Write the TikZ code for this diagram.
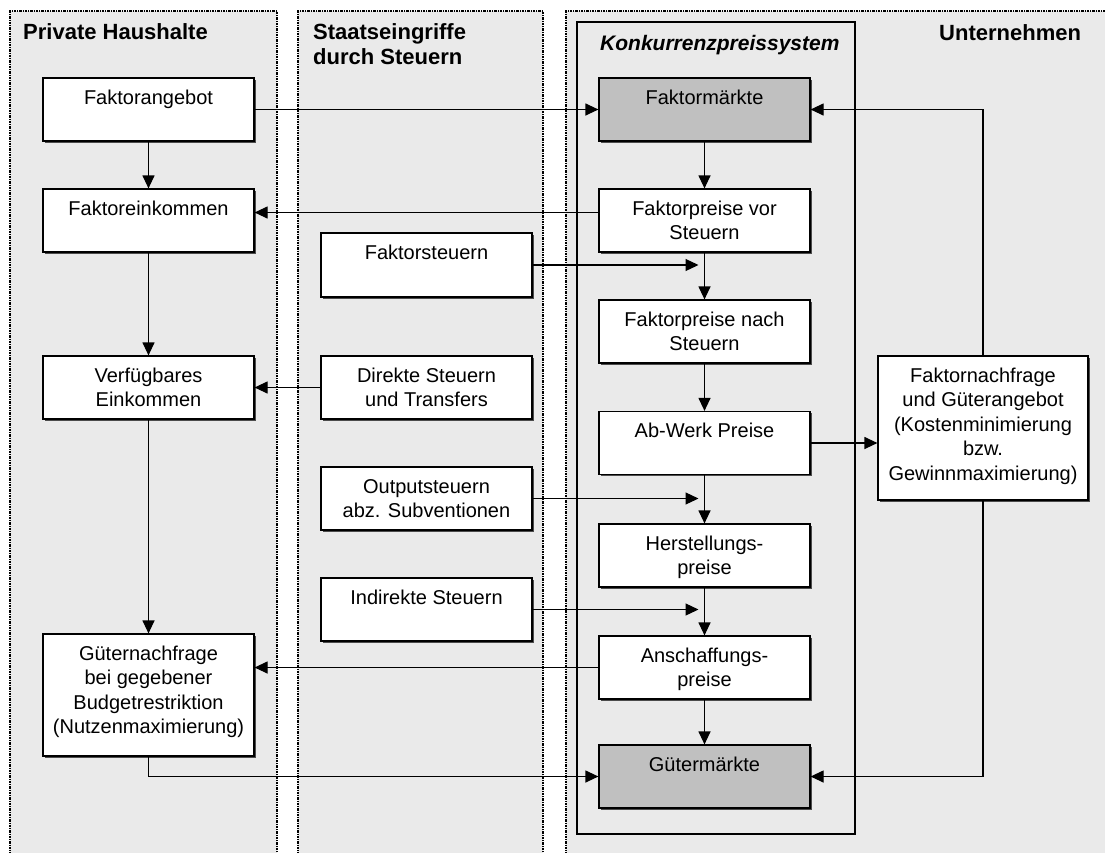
\documentclass[tikz,border=0pt]{standalone}
\usepackage{fontspec}
\setmainfont{Liberation Sans}
\usetikzlibrary{arrows.meta,shadows}
\definecolor{panel}{HTML}{EAEAEA}
\definecolor{markt}{HTML}{C0C0C0}
\newcommand{\boxtext}[3]{\parbox[c][#2pt][t]{#1pt}{\centering\rule{0pt}{26pt}#3}}
\tikzset{
  sector/.style={line width=1.3pt, dash pattern=on 2.5pt off 1pt on 1pt off 1pt},
  blk/.style={draw, fill=white, line width=1.2pt, inner sep=0pt,
    font=\fontsize{20}{24.5}\selectfont,
    drop shadow={shadow xshift=1.5pt, shadow yshift=-1.5pt, fill=black!70, opacity=1}},
  mkt/.style={blk, fill=markt},
  head/.style={font=\fontsize{22}{25}\selectfont\bfseries, inner sep=0pt, align=left},
  arr/.style={line width=1.2pt, -{Triangle[length=13pt,width=12pt]}}
}
\begin{document}
\begin{tikzpicture}[x=1pt,y=-1pt]
\clip (0,0) rectangle (1105,852);
\fill[panel] (10,11) rectangle (277,860);
\fill[panel] (298,11) rectangle (543,860);
\fill[panel] (566,11) rectangle (1110,860);
\draw[sector] (10,860) -- (10,11) -- (277,11) -- (277,860);
\draw[sector] (298,860) -- (298,11) -- (543,11) -- (543,860);
\draw[sector] (566,860) -- (566,11) -- (1110,11);
\draw[line width=1.2pt] (577,22) rectangle (855,834);

\node[head, anchor=base west] (haushalte) at (23,39) {Private Haushalte};
\node[head, anchor=north west] (staat) at (313,23) {Staatseingriffe\\durch Steuern};
\node[head, anchor=base west, font=\fontsize{21}{25}\selectfont\bfseries\itshape] (kps) at (600,50) {Konkurrenzpreissystem};
\node[head, anchor=base west] (unternehmen) at (939,40) {Unternehmen};

\node[blk] (fangebot) at (148.5,109.5) {\boxtext{211}{63}{Faktorangebot}};
\node[blk] (feink) at (148.5,220.5) {\boxtext{211}{63}{Faktoreinkommen}};
\node[blk] (verfueg) at (148.5,387.5) {\boxtext{211}{63}{Verfügbares\\Einkommen}};
\node[blk] (gnachf) at (148.5,695) {\boxtext{211}{122}{Güternachfrage\\bei gegebener\\Budgetrestriktion\\(Nutzenmaximierung)}};

\node[blk] (fsteuer) at (426.5,265) {\boxtext{211}{64}{Faktorsteuern}};
\node[blk] (direkt) at (426.5,387.5) {\boxtext{211}{63}{Direkte Steuern\\und Transfers}};
\node[blk] (output) at (426.5,498.5) {\boxtext{211}{63}{Outputsteuern\\abz. Subventionen}};
\node[blk] (indirekt) at (426.5,609.5) {\boxtext{211}{63}{Indirekte Steuern}};

\node[mkt] (fmarkt) at (704.5,109.5) {\boxtext{211}{63}{Faktormärkte}};
\node[blk] (fvor) at (704.5,220.5) {\boxtext{211}{63}{Faktorpreise vor\\Steuern}};
\node[blk] (fnach) at (704.5,331.5) {\boxtext{211}{63}{Faktorpreise nach\\Steuern}};
\node[blk] (abwerk) at (704.5,443) {\boxtext{211}{63}{Ab-Werk Preise}};
\node[blk] (herst) at (704.5,555.5) {\boxtext{211}{63}{Herstellungs-\\preise}};
\node[blk] (ansch) at (704.5,667.5) {\boxtext{211}{63}{Anschaffungs-\\preise}};
\node[mkt] (gmarkt) at (704.5,776.5) {\boxtext{211}{63}{Gütermärkte}};

\node[blk] (fnachfr) at (983,428) {\boxtext{210}{144}{Faktornachfrage\\und Güterangebot\\(Kostenminimierung\\bzw.\\Gewinnmaximierung)}};

\draw[arr] (fangebot.east) -- (fmarkt.west);
\draw[arr] (fangebot) -- (feink);
\draw[arr] (feink) -- (verfueg);
\draw[arr] (verfueg) -- (gnachf);
\draw[arr] ([yshift=8pt]fvor.west) -- ([yshift=8pt]feink.east);
\draw[arr] (direkt) -- (verfueg);
\draw[arr] (ansch.west) -- (ansch.west -| gnachf.east);
\draw[arr] (gnachf.south) |- (gmarkt.west);

\draw[arr] (fmarkt) -- (fvor);
\draw[arr] (fvor) -- (fnach);
\draw[arr] (fnach) -- (abwerk);
\draw[arr] (abwerk) -- (herst);
\draw[arr] (herst) -- (ansch);
\draw[arr] (ansch) -- (gmarkt);
\draw[arr, shorten >=6pt] (fsteuer.east) -- (fsteuer.east -| fvor.south);
\draw[arr, shorten >=6pt] (output.east) -- (output.east -| abwerk.south);
\draw[arr, shorten >=6pt] (indirekt.east) -- (indirekt.east -| herst.south);

\draw[arr] (abwerk.east) -- (abwerk.east -| fnachfr.west);
\draw[arr] (fnachfr.north) |- (fmarkt.east);
\draw[arr] (fnachfr.south) |- (gmarkt.east);
\end{tikzpicture}
\end{document}
